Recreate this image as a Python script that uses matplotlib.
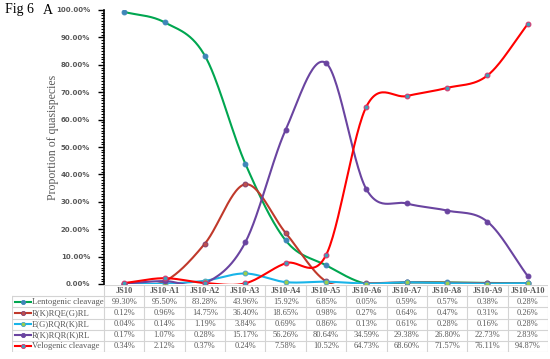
import numpy as np
import matplotlib.pyplot as plt
from matplotlib.lines import Line2D
from matplotlib.ticker import MultipleLocator, FuncFormatter

muestras = ['JS10', 'JS10-A1', 'JS10-A2', 'JS10-A3', 'JS10-A4', 'JS10-A5',
            'JS10-A6', 'JS10-A7', 'JS10-A8', 'JS10-A9', 'JS10-A10']
lentogenic = [99.30, 95.50, 83.28, 43.96, 15.92, 6.85, 0.05, 0.59, 0.57, 0.38, 0.28]
rqeg = [0.12, 0.96, 14.75, 36.40, 18.65, 0.98, 0.27, 0.64, 0.47, 0.31, 0.26]
egrqr = [0.04, 0.14, 1.19, 3.84, 0.69, 0.86, 0.13, 0.61, 0.28, 0.16, 0.28]
rqrk = [0.17, 1.07, 0.28, 15.17, 56.26, 80.64, 34.59, 29.38, 26.80, 22.73, 2.83]
velogenic = [0.34, 2.12, 0.37, 0.24, 7.58, 10.52, 64.73, 68.60, 71.57, 76.11, 94.87]

series = [
    ('Lentogenic cleavage', lentogenic, '#00a650', '#3f86b8', '#3f86b8'),
    ('R(K)RQE(G)RL', rqeg, '#c0392b', '#c0504d', '#7f3f6f'),
    ('E(G)RQR(K)RL', egrqr, '#19b4e8', '#9bcf4a', '#4aa3c8'),
    ('R(K)RQR(K)RL', rqrk, '#6a44a0', '#6a44a0', '#6a44a0'),
    ('Velogenic cleavage', velogenic, '#ff0000', '#3fa0b8', '#e0306a'),
]

texto_gris = '#595959'
serif = 'Liberation Serif'


def suavizar(y, n=30):
    # curva tipo Catmull-Rom, parecida al "suavizado" de Excel
    y = np.asarray(y, dtype=float)
    x = np.arange(len(y), dtype=float)
    px = np.concatenate([[2 * x[0] - x[1]], x, [2 * x[-1] - x[-2]]])
    py = np.concatenate([[2 * y[0] - y[1]], y, [2 * y[-1] - y[-2]]])
    xs, ys = [], []
    t = np.linspace(0, 1, n, endpoint=False)
    for i in range(1, len(px) - 2):
        for arr, out in ((px, xs), (py, ys)):
            p0, p1, p2, p3 = arr[i - 1], arr[i], arr[i + 1], arr[i + 2]
            out.extend(0.5 * ((2 * p1) + (-p0 + p2) * t
                              + (2 * p0 - 5 * p1 + 4 * p2 - p3) * t ** 2
                              + (-p0 + 3 * p1 - 3 * p2 + p3) * t ** 3))
    xs.append(x[-1])
    ys.append(y[-1])
    return np.array(xs), np.array(ys)


fig = plt.figure(figsize=(5.5, 3.59), dpi=100)
ax = fig.add_axes([104 / 550, 1 - 284 / 359, 444 / 550, 274 / 359])

for nombre, valores, col_linea, col_marca, col_borde in series:
    xs, ys = suavizar(valores)
    ax.plot(xs, ys, color=col_linea, lw=1.5, zorder=2)
    ax.plot(range(len(valores)), valores, ls='none', marker='o', ms=3.5,
            mfc=col_marca, mec=col_borde, mew=0.7, zorder=3)

ax.set_xlim(-0.5, len(muestras) - 0.5)
ax.set_ylim(0, 100)
ax.yaxis.set_major_locator(MultipleLocator(10))
ax.yaxis.set_minor_locator(MultipleLocator(1))
ax.yaxis.set_major_formatter(FuncFormatter(lambda v, p: f'{v:.2f}%'))
ax.tick_params(axis='y', which='major', length=4, width=1, labelsize=5,
               labelcolor=texto_gris, pad=6)
ax.tick_params(axis='y', which='minor', length=2, width=0.8)
for lab in ax.get_yticklabels():
    lab.set_fontweight('bold')
ax.set_xticks([])
for lado in ['top', 'right', 'bottom']:
    ax.spines[lado].set_visible(False)
ax.spines['left'].set_linewidth(1.2)

fig.text(53 / 550, 1 - 137 / 359, 'Proportion of quasispecies', rotation=90,
         ha='center', va='center', fontsize=8.5, color=texto_gris, family=serif)
fig.text(5 / 550, 1 - 10 / 359, 'Fig 6', ha='left', va='center',
         fontsize=10, family=serif)
fig.text(43 / 550, 1 - 10 / 359, 'A', ha='left', va='center',
         fontsize=10, family=serif)

# Tabla de datos debajo del grafico
ancho_col = 444 / 11
ancho_etq = (104 - 12) / ancho_col
tx = fig.add_axes([12 / 550, 1 - 352 / 359, 536 / 550, 67 / 359])
tx.set_xlim(-0.5 - ancho_etq, len(muestras) - 0.5)
tx.set_ylim(6, 0)
tx.axis('off')
gris = '#d4d4d4'
x0, x1 = -0.5 - ancho_etq, len(muestras) - 0.5
for r in range(1, 7):
    tx.plot([x0, x1], [r, r], color=gris, lw=0.8)
tx.plot([-0.5, x1], [0, 0], color=gris, lw=0.8)
tx.plot([x0, x0], [1, 6], color=gris, lw=0.8)
for c in range(len(muestras) + 1):
    tx.plot([c - 0.5, c - 0.5], [0, 6], color=gris, lw=0.8)

for i, m in enumerate(muestras):
    tx.text(i, 0.5, m, ha='center', va='center', fontsize=6, fontweight='bold',
            color=texto_gris, family=serif)

for r, (nombre, valores, col_linea, col_marca, col_borde) in enumerate(series):
    y = r + 1.5
    tx.add_line(Line2D([x0 + 0.07, x0 + 0.48], [y, y], color=col_linea, lw=1.5))
    tx.plot([x0 + 0.27], [y], marker='o', ms=3, mfc=col_marca, mec=col_borde,
            mew=0.6)
    tx.text(x0 + 0.5, y, nombre, ha='left', va='center', fontsize=6.2,
            color=texto_gris, family=serif)
    for i, v in enumerate(valores):
        tx.text(i, y, f'{v:.2f}%', ha='center', va='center', fontsize=6,
                color=texto_gris, family=serif)

fig.savefig('out.png', dpi=100)
